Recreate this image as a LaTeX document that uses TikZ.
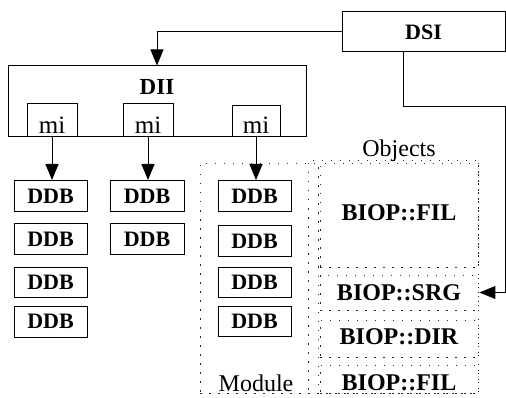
\documentclass[tikz,border=0pt]{standalone}
\usepackage{fontspec}
\setmainfont{Liberation Serif}
\usetikzlibrary{arrows.meta}
\newcommand{\fs}[1]{\fontsize{#1}{#1}\selectfont}
\begin{document}
\begin{tikzpicture}[x=1pt,y=-1pt,
  solidbox/.style={draw=black,line width=1pt,inner sep=0pt},
  dotbox/.style={draw=black!85,line width=0.9pt,dash pattern=on 1.5pt off 7.5pt},
  arr/.style={draw=black,line width=1pt,-{Triangle[length=16pt,width=13pt]}},
  lnk/.style={draw=black,line width=1pt},
  ddb/.style={solidbox,minimum width=73pt,minimum height=31pt,font=\fs{22}\bfseries},
  biop/.style={font=\fs{24}\bfseries,inner sep=0pt},
  plain/.style={font=\fs{24},inner sep=0pt}]
\useasboundingbox (0,0) rectangle (506,398);
% DSI
\node[solidbox,minimum width=163pt,minimum height=40pt,font=\fs{22}\bfseries] (dsi) at (423.5,32) {DSI};
% DII
\node[solidbox,minimum width=298pt,minimum height=71pt] (dii) at (157,101.5) {};
\node[font=\fs{23}\bfseries,inner sep=0pt,anchor=base] (diit) at (157,95) {DII};
% mi boxes
\node[solidbox,fill=white,minimum width=50pt,minimum height=33pt] (mi1) at (52,120.5) {};
\node[solidbox,fill=white,minimum width=50pt,minimum height=33pt] (mi2) at (148,120.5) {};
\node[solidbox,fill=white,minimum width=48pt,minimum height=31pt] (mi3) at (256,121.5) {};
\node[plain,anchor=base,font=\fs{25}] (mit1) at (52,134) {mi};
\node[plain,anchor=base,font=\fs{25}] (mit2) at (148,134) {mi};
\node[plain,anchor=base,font=\fs{25}] (mit3) at (256,134) {mi};
% DDB column 1
\node[ddb] (d11) at (50.5,196) {DDB};
\node[ddb,minimum height=30pt] (d12) at (50.5,239) {DDB};
\node[ddb,minimum height=30pt] (d13) at (50.5,282) {DDB};
\node[ddb] (d14) at (50.5,321.5) {DDB};
% DDB column 2
\node[ddb,minimum width=74pt] (d21) at (147,196) {DDB};
\node[ddb,minimum width=74pt,minimum height=30pt] (d22) at (147,239) {DDB};
% DDB column 3
\node[ddb] (d31) at (254.5,196) {DDB};
\node[ddb,minimum height=31pt] (d32) at (254.5,241) {DDB};
\node[ddb,minimum height=30pt] (d33) at (254.5,282) {DDB};
\node[ddb,minimum height=30pt] (d34) at (254.5,321.5) {DDB};
% Module box
\node[dotbox,minimum width=118pt,minimum height=230pt,inner sep=0pt] (module) at (259,278) {};
\node[plain,anchor=base] (modt) at (256,391) {Module};
% Objects box
\node[dotbox,minimum width=170pt,minimum height=233pt,inner sep=0pt] (objects) at (393,276.5) {};
\node[plain,anchor=base] (objt) at (399,157) {Objects};
% inner object boxes
\node[dotbox,minimum width=158pt,minimum height=104pt] (fil1) at (399,215) {};
\node[biop] (fil1t) at (399,213) {BIOP::FIL};
\node[dotbox,minimum width=158pt,minimum height=35pt] (srg) at (399,292.5) {};
\node[biop] (srgt) at (399,293) {BIOP::SRG};
\node[dotbox,minimum width=158pt,minimum height=37pt] (dir) at (399,338.5) {};
\node[biop] (dirt) at (399,337) {BIOP::DIR};
\node[dotbox,minimum width=158pt,minimum height=28pt] (fil2) at (399,379) {};
\node[biop] (fil2t) at (399,383) {BIOP::FIL};
% connectors
\draw[arr] (dsi.west) -| (dii.north);
\coordinate (corner) at (505,107);
\draw[arr] ([xshift=-20.5pt]dsi.south) |- (corner) |- ([xshift=1pt]srg.east);
\draw[arr] (mi1.south) -- (mi1.south |- d11.north);
\draw[arr] (mi2.south) -- (mi2.south |- d21.north);
\draw[arr] (mi3.south) -- (mi3.south |- d31.north);
\end{tikzpicture}
\end{document}
